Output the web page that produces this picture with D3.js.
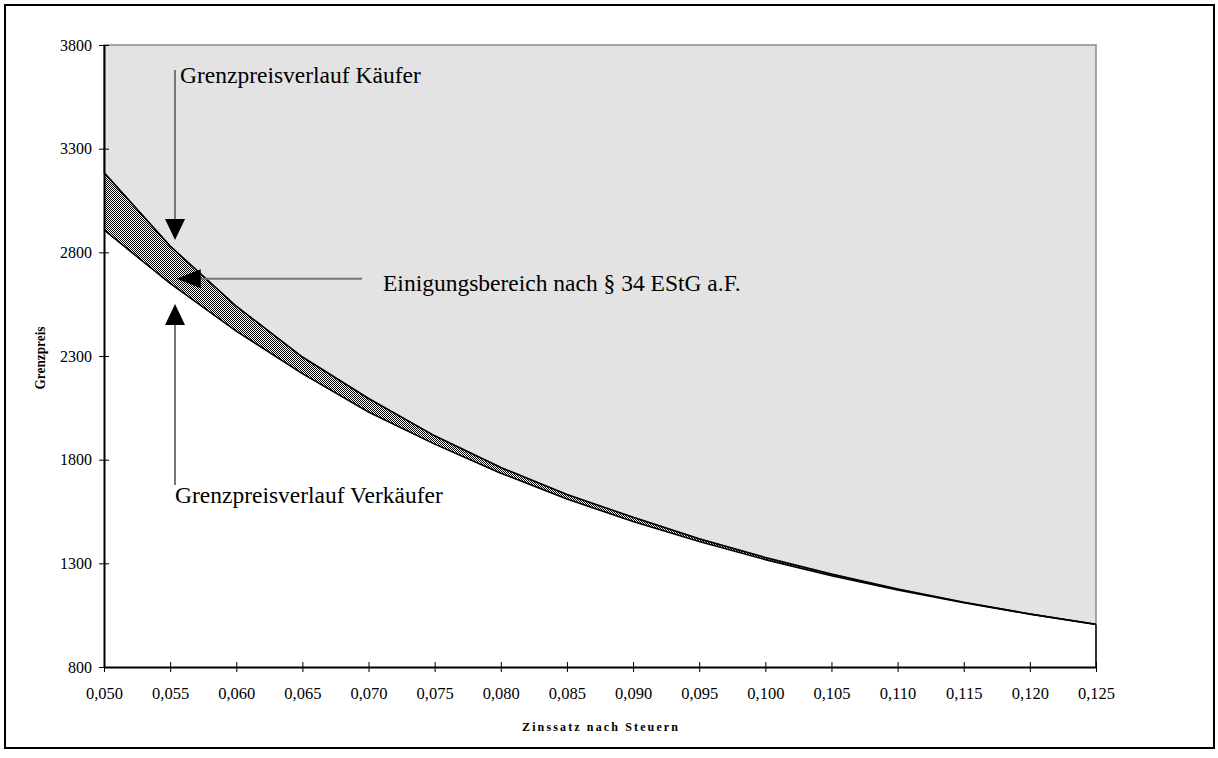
<!DOCTYPE html>
<html>
<head>
<meta charset="utf-8">
<script src="https://cdn.jsdelivr.net/npm/d3@7"></script>
<style>
  body { margin: 0; background: #fff; }
  svg { display: block; font-family: "Liberation Serif", "Times New Roman", serif; }
</style>
</head>
<body>
<div id="chart"></div>
<script>
// Zinssatz nach Steuern
const rates = [0.050, 0.055, 0.060, 0.065, 0.070, 0.075, 0.080, 0.085,
               0.090, 0.095, 0.100, 0.105, 0.110, 0.115, 0.120, 0.125];
// Grenzpreisverlauf Käufer (obere Kurve)
const buyer = [3185, 2830, 2540, 2295, 2095, 1915, 1762, 1632,
               1522, 1418, 1328, 1248, 1176, 1112, 1056, 1006];
// Grenzpreisverlauf Verkäufer (untere Kurve)
const seller = [2908, 2650, 2420, 2215, 2030, 1875, 1735, 1610,
                1502, 1405, 1318, 1240, 1172, 1110, 1055, 1005];
const yTicks = [800, 1300, 1800, 2300, 2800, 3300, 3800];

const width = 1218, height = 758;
const plotL = 104, plotR = 1096, plotT = 45, plotB = 667;

const svg = d3.select("#chart").append("svg")
  .attr("width", width)
  .attr("height", height);

const defs = svg.append("defs");
const pat = defs.append("pattern")
  .attr("id", "checker")
  .attr("width", 2).attr("height", 2)
  .attr("patternUnits", "userSpaceOnUse");
pat.append("rect").attr("width", 2).attr("height", 2).attr("fill", "#fff");
pat.append("rect").attr("width", 1).attr("height", 1).attr("fill", "#000");
pat.append("rect").attr("x", 1).attr("y", 1).attr("width", 1).attr("height", 1).attr("fill", "#000");

// outer frame
svg.append("rect")
  .attr("x", 5).attr("y", 5)
  .attr("width", 1209).attr("height", 743)
  .attr("fill", "none")
  .attr("stroke", "#000")
  .attr("stroke-width", 2);

const x = d3.scaleLinear().domain([0.05, 0.125]).range([plotL, plotR]);
const y = d3.scaleLinear().domain([800, 3800]).range([plotB, plotT]);

const pts = rates.map((r, i) => ({ r, hi: buyer[i], lo: seller[i] }));

// grey area above buyer curve
svg.append("path")
  .datum(pts)
  .attr("d", d3.area().x(d => x(d.r)).y0(y(3800)).y1(d => y(d.hi)))
  .attr("fill", "#e3e3e3")
  .attr("stroke", "#8c8c8c")
  .attr("stroke-width", 1.5);

// hatched band between curves
svg.append("path")
  .datum(pts)
  .attr("d", d3.area().x(d => x(d.r)).y0(d => y(d.lo)).y1(d => y(d.hi)))
  .attr("fill", "url(#checker)");

const line = d3.line().x(d => x(d.r));
svg.append("path")
  .datum(pts)
  .attr("d", line.y(d => y(d.hi)))
  .attr("fill", "none")
  .attr("stroke", "#000")
  .attr("stroke-width", 1.6);
svg.append("path")
  .datum(pts)
  .attr("d", line.y(d => y(d.lo)))
  .attr("fill", "none")
  .attr("stroke", "#000")
  .attr("stroke-width", 1.6);

// right edge of white area
svg.append("line")
  .attr("x1", x(0.125)).attr("x2", x(0.125))
  .attr("y1", y(seller[seller.length - 1])).attr("y2", plotB)
  .attr("stroke", "#000").attr("stroke-width", 1.6);

// axes
const fmtX = d => d3.format(".3f")(d).replace(".", ",");
const xAxis = svg.append("g")
  .attr("transform", `translate(0,${plotB})`)
  .call(d3.axisBottom(x).tickValues(rates).tickFormat(fmtX).tickSize(5).tickSizeOuter(0));
xAxis.select(".domain").attr("stroke-width", 2);
xAxis.selectAll(".tick line").attr("y1", -5).attr("y2", 5);
xAxis.selectAll(".tick text")
  .attr("y", 32)
  .attr("dy", 0)
  .attr("font-size", 16.5)
  .attr("font-family", "Liberation Serif")
  .attr("fill", "#000");

const yAxis = svg.append("g")
  .attr("transform", `translate(${plotL},0)`)
  .call(d3.axisLeft(y).tickValues(yTicks).tickFormat(d3.format("d")).tickSize(5).tickSizeOuter(0));
yAxis.select(".domain").attr("stroke-width", 2);
yAxis.selectAll(".tick line").attr("x1", -5).attr("x2", 5);
yAxis.selectAll(".tick text")
  .attr("x", -12)
  .attr("font-size", 16)
  .attr("font-family", "Liberation Serif")
  .attr("fill", "#000");

// axis titles
svg.append("text")
  .attr("x", 600).attr("y", 731)
  .attr("text-anchor", "middle")
  .attr("font-size", 12)
  .attr("font-weight", "bold")
  .attr("textLength", 156)
  .attr("lengthAdjust", "spacing")
  .text("Zinssatz nach Steuern");

svg.append("text")
  .attr("transform", "translate(45,358) rotate(-90)")
  .attr("text-anchor", "middle")
  .attr("font-size", 15)
  .attr("font-weight", "bold")
  .attr("textLength", 63)
  .attr("lengthAdjust", "spacingAndGlyphs")
  .text("Grenzpreis");

// annotations
const ann = svg.append("g");
function arrowHead(tx, ty, dir, len, half) {
  let p;
  if (dir === "down") p = [[tx, ty], [tx - half, ty - len], [tx + half, ty - len]];
  else if (dir === "up") p = [[tx, ty], [tx - half, ty + len], [tx + half, ty + len]];
  else p = [[tx, ty], [tx + len, ty - half], [tx + len, ty + half]];
  ann.append("path").attr("d", d3.line()(p) + "Z").attr("fill", "#000");
}

const ax = x(0.05537);
// Käufer
ann.append("line")
  .attr("x1", ax).attr("x2", ax).attr("y1", 70).attr("y2", y(2860) - 18)
  .attr("stroke", "#777").attr("stroke-width", 2);
arrowHead(ax, y(2860), "down", 21, 10);
ann.append("text").attr("x", 180).attr("y", 83).attr("font-size", 23.5)
  .text("Grenzpreisverlauf Käufer");

// Einigungsbereich
const ey = y(2672);
ann.append("line")
  .attr("x1", x(0.0555) + 20).attr("x2", 362).attr("y1", ey).attr("y2", ey)
  .attr("stroke", "#777").attr("stroke-width", 2);
arrowHead(x(0.0555), ey, "left", 24, 9.5);
ann.append("text").attr("x", 383).attr("y", 291).attr("font-size", 23.5)
  .text("Einigungsbereich nach § 34 EStG a.F.");

// Verkäufer
ann.append("line")
  .attr("x1", ax).attr("x2", ax).attr("y1", 485).attr("y2", y(2551) + 18)
  .attr("stroke", "#777").attr("stroke-width", 2);
arrowHead(ax, y(2551), "up", 21, 10);
ann.append("text").attr("x", 175).attr("y", 503).attr("font-size", 23.5)
  .text("Grenzpreisverlauf Verkäufer");
</script>
</body>
</html>
